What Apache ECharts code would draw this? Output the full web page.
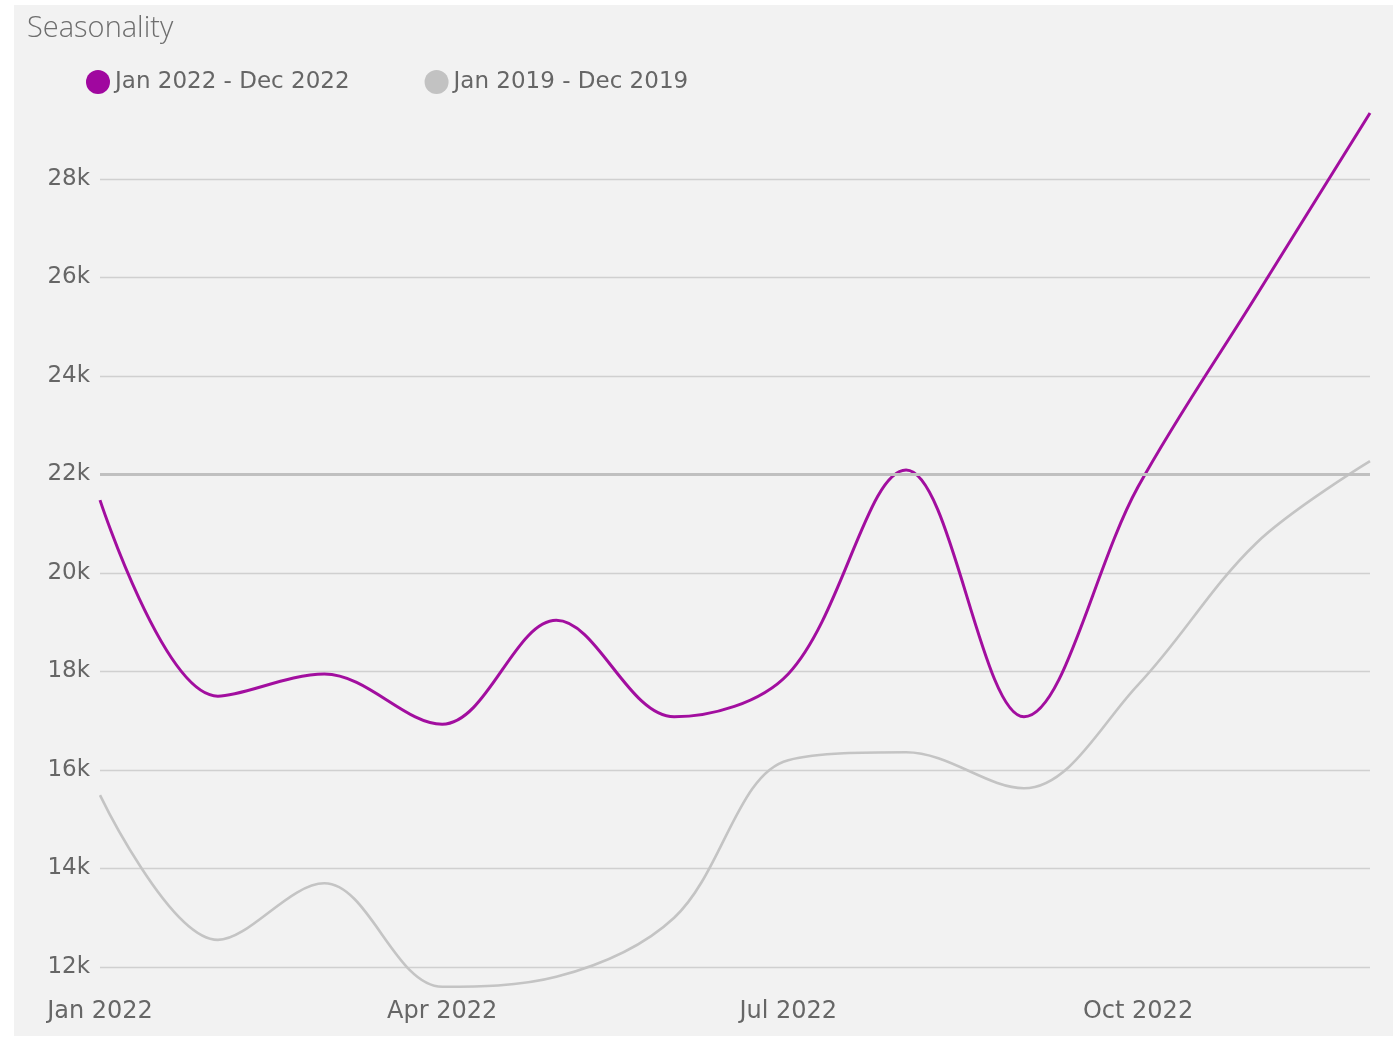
<!DOCTYPE html>
<html>
<head>
<meta charset="utf-8">
<script src="https://cdn.jsdelivr.net/npm/echarts@6/dist/echarts.min.js"></script>
<style>
  html, body { margin: 0; padding: 0; background: #ffffff; }
  #panel { position: absolute; left: 14px; top: 5px; width: 1379px; height: 1031px; background: #f2f2f2; }
  #chart { position: absolute; left: 0; top: 0; width: 1399px; height: 1038px; }
</style>
</head>
<body>
<div id="panel"></div>
<div id="chart"></div>
<script>
// ---- data ----
const months = ['2022-01-01','2022-02-01','2022-03-01','2022-04-01','2022-05-01','2022-06-01',
                '2022-07-01','2022-08-01','2022-09-01','2022-10-01','2022-11-01','2022-12-01'];
const series2022 = [21480, 17500, 17950, 16930, 19040, 17080, 17950, 22090, 17080, 21750, 25620, 29340];
const series2019 = [15490, 12550, 13700, 11600, 11800, 13000, 16200, 16360, 15630, 17730, 20600, 22270];
const legendNames = ['Jan 2022 - Dec 2022', 'Jan 2019 - Dec 2019'];
const xTickDates = ['2022-01-01', '2022-04-01', '2022-07-01', '2022-10-01'];
const xTickLabels = ['Jan 2022', 'Apr 2022', 'Jul 2022', 'Oct 2022'];
const yTickValues = [12000, 14000, 16000, 18000, 20000, 22000, 24000, 26000, 28000];
const referenceLine = 22000;

function toTime(s) {
  const p = s.split('-').map(Number);
  return Date.UTC(p[0], p[1] - 1, p[2]);
}
const xTickTimes = xTickDates.map(toTime);

const chart = echarts.init(document.getElementById('chart'), null, { renderer: 'canvas' });

const labelFont = 'DejaVu Sans';
const option = {
  animation: false,
  backgroundColor: 'transparent',
  title: {
    text: 'Seasonality',
    left: 22,
    top: 9,
    textStyle: { fontFamily: 'Open Sans', fontWeight: 300, fontSize: 29, color: '#6e6e6e' }
  },
  legend: {
    data: legendNames,
    left: 86,
    top: 70,
    padding: 0,
    icon: 'circle',
    itemWidth: 24,
    itemHeight: 24,
    itemGap: 75,
    textStyle: { fontFamily: labelFont, fontSize: 23, color: '#666666' }
  },
  grid: {
    left: 100,
    right: 29,
    top: 80.5,
    bottom: -27.5,
    containLabel: false,
    outerBoundsMode: 'none'
  },
  xAxis: {
    type: 'value',
    min: toTime(months[0]),
    max: toTime(months[months.length - 1]),
    offset: -75.5,
    axisLine: { show: false },
    axisTick: { show: false },
    splitLine: { show: false },
    minorTick: { show: false },
    axisLabel: {
      customValues: xTickTimes,
      margin: 10,
      fontFamily: labelFont,
      fontSize: 24,
      color: '#666666',
      hideOverlap: false,
      showMinLabel: true,
      showMaxLabel: true,
      formatter: function (value) {
        const i = xTickTimes.indexOf(Number(value));
        return i >= 0 ? xTickLabels[i] : '';
      }
    }
  },
  yAxis: {
    type: 'value',
    min: 10000,
    max: 30000,
    interval: 2000,
    axisLine: { show: false },
    axisTick: { show: false },
    axisLabel: {
      margin: 10,
      fontFamily: labelFont,
      fontSize: 23,
      color: '#666666',
      showMaxLabel: false,
      showMinLabel: false,
      formatter: function (v) {
        return yTickValues.indexOf(v) >= 0 ? (v / 1000) + 'k' : '';
      }
    },
    splitLine: {
      show: true,
      showMinLine: false,
      showMaxLine: false,
      lineStyle: { color: '#d0d0d0', width: 1.4 }
    }
  },
  series: [
    {
      name: legendNames[1],
      type: 'line',
      data: months.map((m, i) => [toTime(m), series2019[i]]),
      smooth: 0.35,
      showSymbol: false,
      symbol: 'circle',
      itemStyle: { color: '#c2c2c2' },
      lineStyle: { color: '#c4c4c4', width: 2.6 },
      z: 2,
      markLine: {
        silent: true,
        symbol: ['none', 'none'],
        label: { show: false },
        lineStyle: { color: '#c0c0c0', width: 2.8, type: 'solid' },
        emphasis: { disabled: true },
        data: [{ yAxis: referenceLine }]
      }
    },
    {
      name: legendNames[0],
      type: 'line',
      data: months.map((m, i) => [toTime(m), series2022[i]]),
      smooth: 0.35,
      showSymbol: false,
      symbol: 'circle',
      itemStyle: { color: '#a0079f' },
      lineStyle: { color: '#a20e9f', width: 3 },
      z: 3
    }
  ]
};
chart.setOption(option);
</script>
</body>
</html>
